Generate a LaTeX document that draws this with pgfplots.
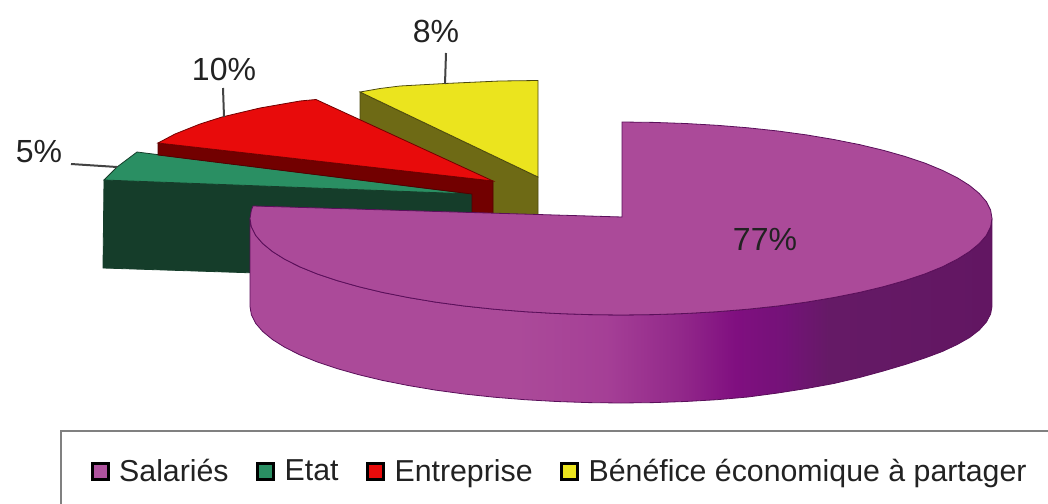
\documentclass[border=0pt]{standalone}
\usepackage{fontspec}
\setmainfont{Liberation Sans}
\usepackage{pgfplots}
\pgfplotsset{compat=1.18}

\definecolor{sal}{HTML}{AB4A99}
\definecolor{saledge}{HTML}{5A0F5A}
\definecolor{etat}{HTML}{2A8F63}
\definecolor{etatdark}{HTML}{153D2A}
\definecolor{ent}{HTML}{E80B0B}
\definecolor{entdark}{HTML}{720000}
\definecolor{ben}{HTML}{EBE41E}
\definecolor{bendark}{HTML}{6E6A15}
\definecolor{txt}{HTML}{222222}
\definecolor{rimb}{HTML}{A53F96}
\definecolor{rimc}{HTML}{92288A}
\definecolor{rimd}{HTML}{800F80}
\definecolor{rime}{HTML}{741278}
\definecolor{rimf}{HTML}{651A66}
\definecolor{rimg}{HTML}{621662}

% gradient on the rim of the big slice (25bp = left end, 75bp = right end)
\pgfdeclarehorizontalshading{rim}{100bp}{
  color(0bp)=(sal); color(43bp)=(sal);
  color(49bp)=(rimb); color(54bp)=(rimc);
  color(57.7bp)=(rimd); color(61bp)=(rime);
  color(64bp)=(rimf); color(75bp)=(rimg);
  color(100bp)=(rimg)}

\begin{document}
\begin{tikzpicture}
\begin{axis}[
    width=1048pt, height=503pt, scale only axis,
    xmin=0, xmax=1048, ymin=0, ymax=503, y dir=reverse,
    axis line style={draw=none}, ticks=none,
    every axis plot/.append style={forget plot},
    legend columns=4,
    legend style={
        at={(axis cs:92,471)}, anchor=west,
        draw=none, fill=none, inner sep=0pt,
        font=\fontsize{30.3}{32}\selectfont, text=txt,
        nodes={inner sep=0pt},
        /tikz/every even column/.append style={column sep=29pt},
        /tikz/every odd column/.append style={column sep=11pt},
    },
]

% legend frame, runs off the page on the right and at the bottom
\addplot[draw=gray, line width=2.5pt] coordinates {(61,510) (61,431) (1055,431)};

% yellow slice
\addplot[fill=bendark, draw=bendark!70!black, line width=0.8pt] coordinates {
    (360,92) (538,177) (538,222) (360,222)} -- cycle;
\addplot[fill=ben, draw=bendark!70!black, line width=0.8pt] coordinates {
    (360,92) (380,88.5) (400,86) (445,83.5) (500,81) (538,80.5) (538,177)} -- cycle;

% green slice
\addplot[fill=etatdark, draw=etatdark, line width=0.8pt] coordinates {
    (104,180) (472,194) (472,280) (103,268)} -- cycle;
\addplot[fill=etat, draw=etatdark, line width=0.8pt] coordinates {
    (104,180) (117,167) (137,152) (472,194)} -- cycle;

% red slice
\addplot[fill=entdark, draw=entdark!70!black, line width=0.8pt] coordinates {
    (158,143) (493,181) (493,222) (472,222) (472,194) (158,155)} -- cycle;
\addplot[fill=ent, draw=entdark, line width=0.8pt] coordinates {
    (158,143) (175,134) (200,124) (222,117) (260,108) (300,101) (316,99.5) (493,181)} -- cycle;

% rim of the big slice
\addplot[shade, shading=rim, draw=saledge, line width=0.8pt] coordinates {
    (992,218.5) (990.6,226.9) (986.4,235.3) (979.3,243.5) (969.6,251.5) (957.2,259.3)
    (942.3,266.8) (924.9,273.9) (905.2,280.5) (883.3,286.7) (859.5,292.4) (833.8,297.5)
    (806.5,302.1) (777.8,306) (747.9,309.2) (717,311.7) (685.4,313.5) (653.4,314.6) (621,315)
    (588.6,314.6) (556.6,313.5) (525,311.7) (494.1,309.2) (464.2,306) (435.5,302.1)
    (408.2,297.5) (382.5,292.4) (358.7,286.7) (336.8,280.5) (317.1,273.9) (299.7,266.8)
    (284.8,259.3) (272.4,251.5) (262.7,243.5) (255.6,235.3) (251.4,226.9) (250,218.5)
    (250,306.5) (251.4,314.9) (255.6,323.3) (262.7,331.5) (272.4,339.5) (284.8,347.3)
    (299.7,354.8) (317.1,361.9) (336.8,368.5) (358.7,374.7) (382.5,380.4) (408.2,385.5)
    (435.5,390.1) (464.2,394) (494.1,397.2) (525,399.7) (556.6,401.5) (588.6,402.6) (621,403)
    (653.4,402.6) (685.4,401.5) (717,399.7) (747.9,397) (777.8,393) (806.5,388.5)
    (833.8,383.5) (859.5,377.5) (883.3,371) (905.2,364.5) (924.9,358) (942.3,351.5)
    (957.2,344.5) (969.6,337.5) (979.3,330) (986.4,322) (990.6,314) (992,306.5)} -- cycle;

% top of the big slice
\addplot[fill=sal, draw=saledge, line width=0.8pt] coordinates {
    (622,217) (622,122) (653.4,122.4) (685.4,123.5) (717,125.3) (747.9,127.8) (777.8,131)
    (806.5,134.9) (833.8,139.5) (859.5,144.6) (883.3,150.3) (905.2,156.5) (924.9,163.1)
    (942.3,170.3) (957.2,177.7) (969.6,185.5) (979.3,193.5) (986.4,201.7) (990.6,210.1)
    (992,218.5) (990.6,226.9) (986.4,235.3) (979.3,243.5) (969.6,251.5) (957.2,259.3)
    (942.3,266.8) (924.9,273.9) (905.2,280.5) (883.3,286.7) (859.5,292.4) (833.8,297.5)
    (806.5,302.1) (777.8,306) (747.9,309.2) (717,311.7) (685.4,313.5) (653.4,314.6) (621,315)
    (588.6,314.6) (556.6,313.5) (525,311.7) (494.1,309.2) (464.2,306) (435.5,302.1)
    (408.2,297.5) (382.5,292.4) (358.7,286.7) (336.8,280.5) (317.1,273.9) (299.7,266.8)
    (284.8,259.3) (272.4,251.5) (262.7,243.5) (255.6,235.3) (251.4,226.9) (250,218.5)
    (251.4,210.1) (253,206)} -- cycle;

% leader lines
\addplot[draw=txt!85!white, line width=2pt] coordinates {(71,164) (117,167)};
\addplot[draw=txt!85!white, line width=2pt] coordinates {(223,88) (224,117)};
\addplot[draw=txt!85!white, line width=2pt] coordinates {(446,53) (445,84)};

% legend keys
\addlegendimage{only marks, mark=square*, mark size=8pt, mark options={fill=sal!95!white, draw=black, line width=3pt}}
\addlegendimage{only marks, mark=square*, mark size=8pt, mark options={fill=etat, draw=black, line width=3pt}}
\addlegendimage{only marks, mark=square*, mark size=8pt, mark options={fill=ent, draw=black, line width=3pt}}
\addlegendimage{only marks, mark=square*, mark size=8pt, mark options={fill=ben, draw=black, line width=3pt}}
\legend{Salariés, Etat, Entreprise, Bénéfice économique à partager}

% value labels
\node[text=txt, font=\fontsize{32}{32}\selectfont] at (axis cs:39,152) {5\%};
\node[text=txt, font=\fontsize{32}{32}\selectfont] at (axis cs:224,69) {10\%};
\node[text=txt, font=\fontsize{32}{32}\selectfont] at (axis cs:436,31) {8\%};
\node[text=txt, font=\fontsize{32}{32}\selectfont] at (axis cs:765,239) {77\%};
\end{axis}
\end{tikzpicture}
\end{document}
